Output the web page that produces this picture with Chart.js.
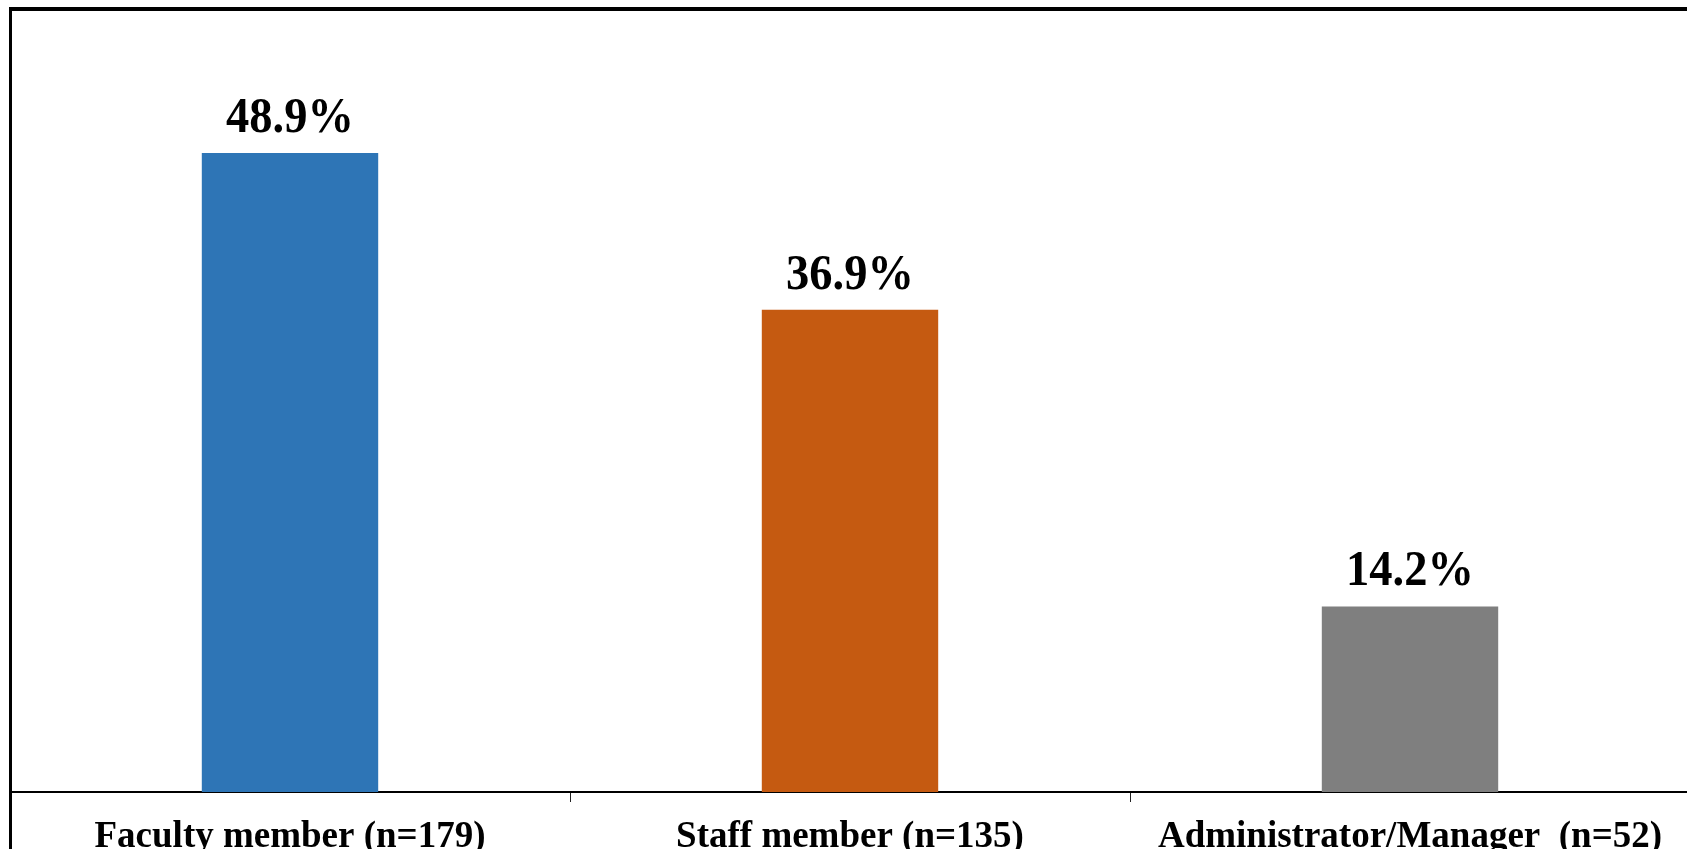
<!DOCTYPE html>
<html>
<head>
<meta charset="utf-8">
<title>Respondents by role</title>
<script src="https://cdn.jsdelivr.net/npm/chart.js@4.4.1/dist/chart.umd.min.js"></script>
<style>
    html, body {
        margin: 0;
        padding: 0;
        width: 1687px;
        height: 849px;
        overflow: hidden;
        background: #fff;
    }
    #frame {
        position: absolute;
        left: 9px;
        top: 7px;
        width: 1800px;
        height: 1000px;
        border-left: 3px solid #000;
        border-top: 4px solid #000;
        pointer-events: none;
        z-index: 2;
    }
    #wrap {
        position: absolute;
        left: 10px;
        top: 8px;
        width: 1680px;
        height: 854px;
    }
</style>
</head>
<body>
<div id="wrap"><canvas id="roles"></canvas></div>
<div id="frame"></div>
<script>
// Share of respondents by role (percent)
const categories = ['Faculty member (n=179)', 'Staff member (n=135)', 'Administrator/Manager  (n=52)'];
const shares = [48.9, 36.9, 14.2];
const barColors = ['#2E75B6', '#C55A11', '#7F7F7F'];
const yMin = 0;
const yMax = 60;

const SERIF = '"Liberation Serif", "Times New Roman", serif';

// Percent labels above each bar, slightly condensed like the axis text
const valueLabels = {
    id: 'valueLabels',
    afterDatasetsDraw(chart) {
        const ctx = chart.ctx;
        const meta = chart.getDatasetMeta(0);
        ctx.save();
        ctx.fillStyle = '#000';
        ctx.font = 'bold 50px ' + SERIF;
        ctx.textAlign = 'center';
        ctx.textBaseline = 'alphabetic';
        meta.data.forEach((bar, i) => {
            ctx.save();
            ctx.translate(bar.x, bar.y - 21);
            ctx.scale(0.93, 1);
            ctx.fillText(shares[i].toFixed(1) + '%', 0, 0);
            ctx.restore();
        });
        ctx.restore();
    },
};

new Chart(document.getElementById('roles'), {
    type: 'bar',
    data: {
        labels: categories,
        datasets: [{
            data: shares,
            backgroundColor: barColors,
            borderWidth: 0,
            categoryPercentage: 1,
            barPercentage: 0.315,
        }],
    },
    options: {
        responsive: true,
        maintainAspectRatio: false,
        animation: false,
        events: [],
        layout: {padding: 0},
        plugins: {
            legend: {display: false},
            tooltip: {enabled: false},
        },
        scales: {
            x: {
                afterFit: (scale) => {
                    scale.height = 70;
                },
                grid: {
                    offset: true,
                    drawOnChartArea: false,
                    drawTicks: true,
                    tickLength: 10,
                    color: '#222',
                    lineWidth: 1,
                },
                border: {display: true, color: '#000', width: 2},
                ticks: {
                    color: '#000',
                    padding: 13,
                    maxRotation: 0,
                    autoSkip: false,
                    font: {family: SERIF, size: 37, weight: 'bold'},
                },
            },
            y: {
                display: false,
                min: yMin,
                max: yMax,
            },
        },
    },
    plugins: [valueLabels],
});
</script>
</body>
</html>
